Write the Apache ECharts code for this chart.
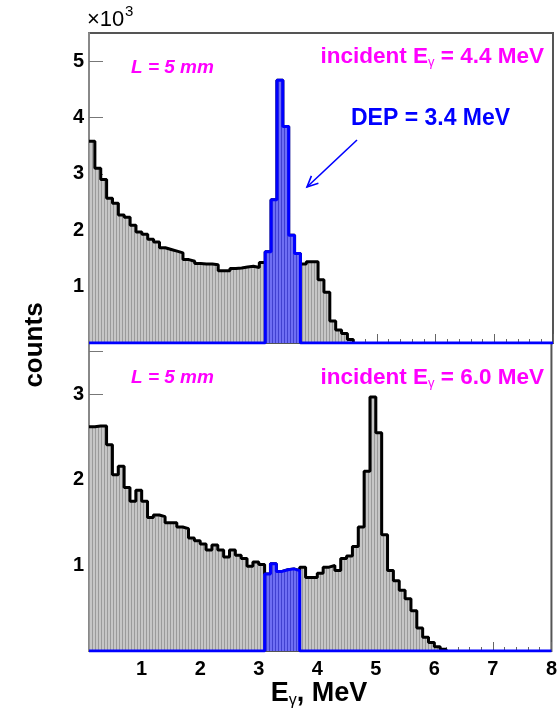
<!DOCTYPE html>
<html>
<head>
<meta charset="utf-8">
<script src="https://cdn.jsdelivr.net/npm/echarts@6/dist/echarts.min.js"></script>
<style>html,body{margin:0;padding:0;background:#fff}#c{width:560px;height:715px}</style>
</head>
<body>
<div id="c"></div>
<script>
// ---- data (counts in units of 10^3, bins of 0.1 MeV) ----
const binWidth = 0.1;
const topStart = 0.1;   // left edge of first bin, top panel (E = 4.4 MeV)
const topCounts = [3.58,3.10,2.90,2.57,2.48,2.27,2.23,2.09,1.97,1.93,
                   1.84,1.79,1.69,1.66,1.63,1.60,1.48,1.45,1.41,1.40,
                   1.40,1.39,1.28,1.28,1.32,1.33,1.35,1.36,1.34,1.43,
                   1.62,2.54,4.66,3.84,1.91,1.59,
                   1.40,1.44,1.44,1.12,0.90,0.39,0.23,0.17,0.06];
const botStart = 0.1;   // bottom panel (E = 6.0 MeV)
const botCounts = [2.62,2.63,2.63,2.41,2.06,2.16,1.91,1.75,1.88,1.75,
                   1.56,1.59,1.57,1.50,1.50,1.45,1.43,1.32,1.29,1.25,
                   1.18,1.24,1.18,1.10,1.18,1.12,1.08,0.99,1.04,1.01,
                   0.90,1.02,0.93,0.95,0.96,0.94,
                   0.98,0.86,0.86,0.91,0.98,1.00,0.94,1.08,1.11,1.22,
                   1.45,2.10,2.97,2.55,1.36,0.94,0.82,0.71,0.61,0.47,
                   0.27,0.16,0.10,0.05,0.02];
const depStart = 3.1;   // highlighted (DEP) window
const topDep = [1.62,2.54,4.66,3.84,1.91,1.59];
const botDep = [0.90,1.02,0.93,0.95,0.96,0.94];
const xMin = 0.1, xMax = 8;
const xLabels = [1,2,3,4,5,6,7,8];
const topYLabels = [1,2,3,4,5];
const botYLabels = [1,2,3];
const topYTicks = [1,2,3,4,5];
const botYTicks = [0.5,1,1.5,2,2.5,3,3.5];
const topYMax = 5.5, botYMax = 3.6;

// ---- helpers ----
function histPoints(start, vals, extendTo) {
  const pts = [];
  for (let i = 0; i < vals.length; i++) pts.push([+(start + i * binWidth).toFixed(3), vals[i]]);
  pts.push([+(start + vals.length * binWidth).toFixed(3), 0]);
  if (extendTo !== undefined) pts.push([extendTo, 0]);
  return pts;
}
function depPoints(vals) {
  return [[xMin, 0]].concat(histPoints(depStart, vals, xMax));
}
function stripe(light, dark) {
  const c = document.createElement('canvas');
  c.width = 3; c.height = 4;
  const g = c.getContext('2d');
  g.fillStyle = light; g.fillRect(0, 0, 3, 4);
  g.fillStyle = dark; g.fillRect(2, 0, 1, 4);
  return { image: c, repeat: 'repeat' };
}
const grayFill = stripe('#c6c6c6', '#9a9a9a');
const blueFill = stripe('#6e6ef4', '#4040d0');
const minorX = [];
for (let v = 0.2; v < xMax - 0.01; v += 0.2) minorX.push(+v.toFixed(2));

const FONT = 'Liberation Sans, Arial, sans-serif';
function xAxes(grid, withLabels) {
  return [
    { gridIndex: grid, type: 'value', min: xMin, max: xMax, position: 'bottom',
      axisLine: { show: false }, splitLine: { show: false },
      axisTick: { show: true, inside: true, length: 9, customValues: xLabels, lineStyle: { color: '#666', width: 1 } },
      axisLabel: { show: withLabels, customValues: xLabels, margin: 8, color: '#000', fontSize: 20, fontWeight: 'bold', fontFamily: FONT } },
    { gridIndex: grid, type: 'value', min: xMin, max: xMax, position: 'bottom',
      axisLine: { show: false }, splitLine: { show: false },
      axisTick: { show: true, inside: true, length: 4, customValues: minorX, lineStyle: { color: '#666', width: 1 } },
      axisLabel: { show: false } }
  ];
}
function yAxis(grid, max, ticks, labels) {
  return { gridIndex: grid, type: 'value', min: 0, max: max,
    axisLine: { show: true, lineStyle: { color: '#888', width: 2 } },
    splitLine: { show: false },
    axisTick: { show: true, inside: true, length: 14, customValues: ticks, lineStyle: { color: '#777', width: 1 } },
    axisLabel: { customValues: labels, margin: 5, color: '#000', fontSize: 20, fontWeight: 'bold', fontFamily: FONT } };
}
function histSeries(xi, yi, pts, lineColor, fill, z) {
  return { type: 'line', xAxisIndex: xi, yAxisIndex: yi, data: pts, step: 'end',
    symbol: 'none', silent: true, animation: false, z: z,
    lineStyle: { color: lineColor, width: 3 }, areaStyle: { color: fill, opacity: 1 } };
}
function subText(x, y, pre, sub, post, size, subSize, color, align) {
  return { type: 'text', x: x, y: y,
    style: { text: '{a|' + pre + '}{s|' + sub + '}{a|' + post + '}', align: align, verticalAlign: 'middle', fontFamily: FONT,
      rich: { a: { fontSize: size, fontWeight: 'bold', fontFamily: FONT, fill: color, lineHeight: size + 2 },
              s: { fontSize: subSize, fontFamily: FONT, fill: color, verticalAlign: 'bottom', lineHeight: Math.round(subSize * 0.7) } } } };
}

const chart = echarts.init(document.getElementById('c'), null, { renderer: 'canvas' });
chart.setOption({
  animation: false,
  backgroundColor: '#fff',
  grid: [
    { left: 89, right: 7, top: 33, height: 310, show: true, borderColor: '#555', borderWidth: 2, backgroundColor: 'transparent' },
    { left: 89, right: 7, top: 343, height: 308, show: true, borderColor: '#555', borderWidth: 2, backgroundColor: 'transparent' }
  ],
  xAxis: xAxes(0, false).concat(xAxes(1, true)),
  yAxis: [yAxis(0, topYMax, topYTicks, topYLabels), yAxis(1, botYMax, botYTicks, botYLabels)],
  series: [
    histSeries(0, 0, histPoints(topStart, topCounts), '#000', grayFill, 2),
    histSeries(0, 0, depPoints(topDep), '#0000ff', blueFill, 3),
    histSeries(2, 1, histPoints(botStart, botCounts), '#000', grayFill, 2),
    histSeries(2, 1, depPoints(botDep), '#0000ff', blueFill, 3)
  ],
  graphic: [
    { type: 'text', left: 87, top: 9, style: { text: '×10', fontSize: 22, fontFamily: FONT, fill: '#000' } },
    { type: 'text', left: 125, top: 4, style: { text: '3', fontSize: 15, fontFamily: FONT, fill: '#000' } },
    { type: 'text', x: 35, y: 345, rotation: Math.PI / 2,
      style: { text: 'counts', fontSize: 26, fontWeight: 'bold', fontFamily: FONT, fill: '#000', align: 'center', verticalAlign: 'middle' } },
    subText(319, 694, 'E', 'γ', ', MeV', 27, 16, '#000', 'center'),
    { type: 'text', x: 131, y: 68,
      style: { text: 'L = 5 mm', fontSize: 19, fontWeight: 'bold', fontStyle: 'italic', fontFamily: FONT, fill: '#ff00ff', verticalAlign: 'middle' } },
    { type: 'text', x: 131, y: 378,
      style: { text: 'L = 5 mm', fontSize: 19, fontWeight: 'bold', fontStyle: 'italic', fontFamily: FONT, fill: '#ff00ff', verticalAlign: 'middle' } },
    subText(544, 57, 'incident E', 'γ', ' = 4.4 MeV', 22.5, 13, '#ff00ff', 'right'),
    subText(544, 378, 'incident E', 'γ', ' = 6.0 MeV', 22.5, 13, '#ff00ff', 'right'),
    { type: 'text', x: 351, y: 119,
      style: { text: 'DEP = 3.4 MeV', fontSize: 23, fontWeight: 'bold', fontFamily: FONT, fill: '#0000ff', verticalAlign: 'middle' } },
    { type: 'polyline', shape: { points: [[357, 140], [307, 187]] }, style: { stroke: '#0000ff', lineWidth: 1.6, fill: null } },
    { type: 'polyline', shape: { points: [[318.4, 183.2], [307, 187], [311.4, 175.9]] }, style: { stroke: '#0000ff', lineWidth: 1.6, fill: null } }
  ]
});
</script>
</body>
</html>
